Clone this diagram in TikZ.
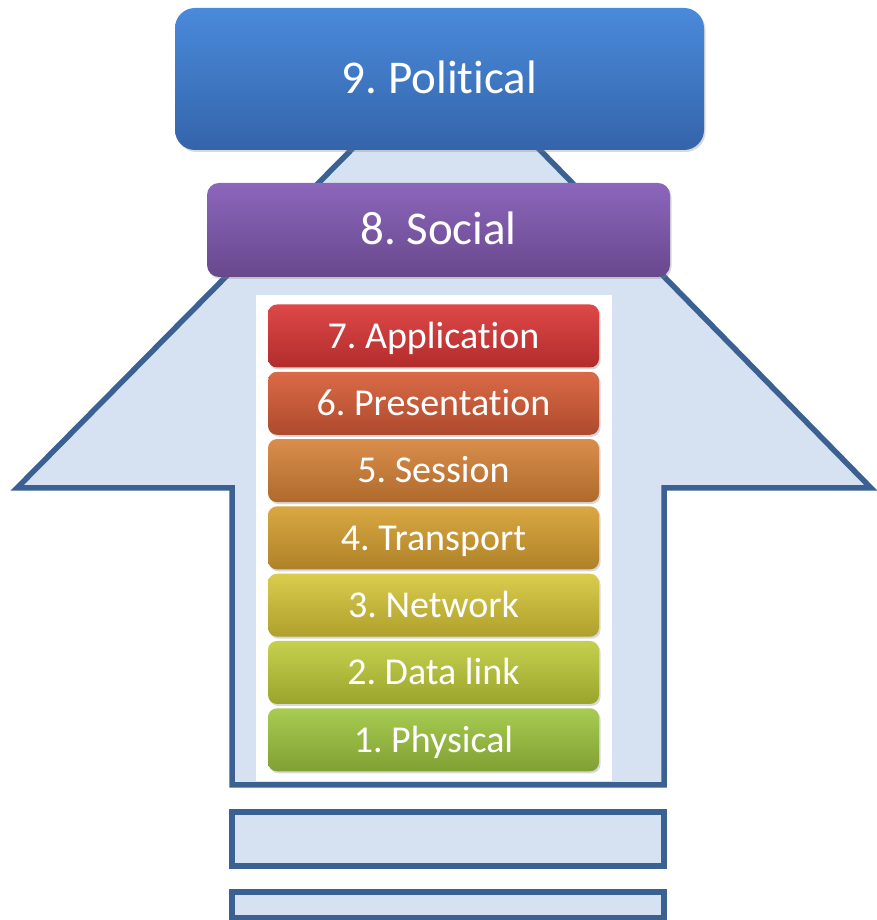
\documentclass[tikz,border=0pt]{standalone}
\usepackage{fontspec}
\setmainfont[Ligatures=NoCommon]{Carlito}
\usetikzlibrary{shadows}

\definecolor{arrowline}{RGB}{59,97,146}
\definecolor{arrowfill}{RGB}{214,226,241}
\definecolor{polT}{RGB}{74,138,218}
\definecolor{polB}{RGB}{52,100,170}
\definecolor{socT}{RGB}{140,102,188}
\definecolor{socB}{RGB}{104,72,140}
\definecolor{appT}{RGB}{222,72,72}
\definecolor{appB}{RGB}{178,44,44}
\definecolor{preT}{RGB}{218,106,72}
\definecolor{preB}{RGB}{174,74,44}
\definecolor{sesT}{RGB}{218,142,76}
\definecolor{sesB}{RGB}{174,106,44}
\definecolor{traT}{RGB}{218,168,66}
\definecolor{traB}{RGB}{174,130,40}
\definecolor{netT}{RGB}{218,204,76}
\definecolor{netB}{RGB}{174,160,44}
\definecolor{linT}{RGB}{198,208,78}
\definecolor{linB}{RGB}{154,164,44}
\definecolor{phyT}{RGB}{168,204,82}
\definecolor{phyB}{RGB}{128,160,50}

\begin{document}
\frenchspacing
\begin{tikzpicture}[x=1pt, y=1pt, node distance=67.3pt,
		glossy/.style={rounded corners=9pt, text=white, text depth=0pt,
			drop shadow={opacity=0.3, shadow xshift=1.5pt, shadow yshift=-2pt}},
		layer/.style={glossy, minimum width=331pt, minimum height=63pt, text height=24.5pt,
			font=\fontsize{38}{40}\selectfont},
		banner/.style={glossy, text height=30pt, font=\fontsize{47}{50}\selectfont},
		outline/.style={draw=arrowline, line width=5.5pt, fill=arrowfill}]
		\useasboundingbox (0,0) rectangle (877,920);
		
		% big arrow and the two bars under it
		\draw [outline] (446,866) -- (871,432) -- (664,432) -- (664,135) -- (232,135) -- (232,432) -- (17,432) -- cycle;
		\draw [outline] (232,54) rectangle (664,108);
		\draw [outline] (232,2) rectangle (664,28);
		\fill [white] (256,139) rectangle (612,625);
		
		% OSI stack
		\node (app)   [layer, top color=appT, bottom color=appB] at (433.5,584) {7. Application};
		\node (pres)  [layer, top color=preT, bottom color=preB, below of=app]   {6. Presentation};
		\node (sess)  [layer, top color=sesT, bottom color=sesB, below of=pres]  {5. Session};
		\node (trans) [layer, top color=traT, bottom color=traB, below of=sess]  {4. Transport};
		\node (net)   [layer, top color=netT, bottom color=netB, below of=trans] {3. Network};
		\node (link)  [layer, top color=linT, bottom color=linB, below of=net]   {2. Data link};
		\node (phys)  [layer, top color=phyT, bottom color=phyB, below of=link]  {1. Physical};
		
		\node (social)    [banner, rounded corners=12pt, minimum width=463pt, minimum height=94pt,
			top color=socT, bottom color=socB] at (438.5,690) {8. Social};
		\node (political) [banner, rounded corners=20pt, minimum width=529pt, minimum height=142pt,
			top color=polT, bottom color=polB] at (439.5,841) {9. Political};
	\end{tikzpicture}
\end{document}
